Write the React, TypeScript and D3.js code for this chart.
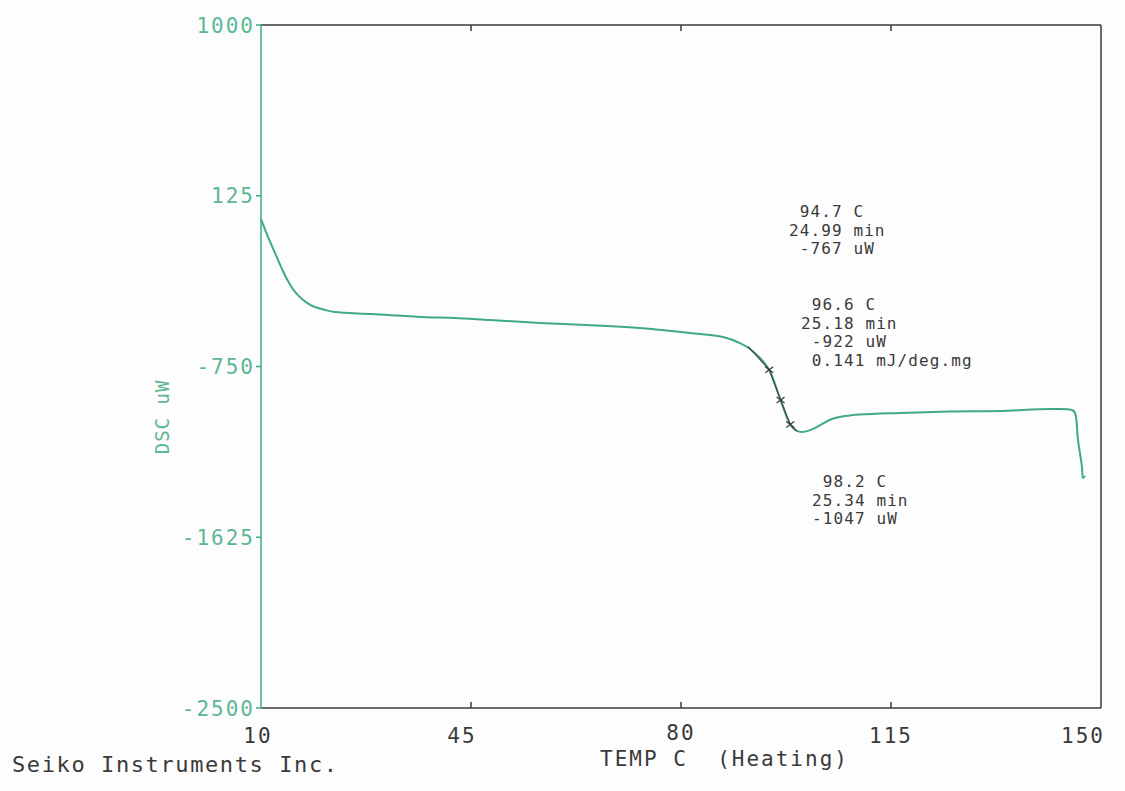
import React from "react";
import * as d3 from "d3";

const xTicks = [10, 45, 80, 115, 150];
const yTicks = [1000, 125, -750, -1625, -2500];

const temps = [10.0, 11.17, 12.33, 13.5, 14.5, 15.67, 16.83, 18.0, 19.0, 20.67, 22.33, 28.5, 36.83, 42.33, 48.17, 56.5, 67.67, 73.17, 81.5, 87.0, 89.83, 91.5, 93.17, 94.7, 96.6, 98.2, 99.2, 100.17, 101.83, 103.5, 105.17, 107.33, 109.83, 116.5, 124.83, 133.17, 141.5, 145.17, 145.67, 146.17, 146.83, 147.0, 147.33];
const dsc = [5, -86, -168, -250, -312, -368, -404, -430, -445, -460, -471, -481, -496, -501, -512, -527, -542, -553, -578, -599, -630, -660, -706, -767, -922, -1047, -1078, -1086, -1072, -1045, -1019, -1004, -996, -988, -981, -978, -968, -973, -988, -1127, -1265, -1321, -1311];

const markerTemps = [94.7, 96.6, 98.2];
const markerValues = [-767, -922, -1047];

const tangentTemps = [91.2, 94.7, 96.6, 98.2, 99.3];
const tangentValues = [-648, -767, -922, -1047, -1082];

const note1 = [" 94.7 C", "24.99 min", " -767 uW"];
const note2 = [" 96.6 C", "25.18 min", " -922 uW", " 0.141 mJ/deg.mg"];
const note3 = [" 98.2 C", "25.34 min", "-1047 uW"];

const GREEN = "#3faa84";
const LGREEN = "#5cb792";
const DARK = "#3a3a3a";
const FONT = "'DejaVu Sans Mono', monospace";

export default function App() {
  const x = d3.scaleLinear().domain([10, 150]).range([261, 1101]);
  const y = d3.scaleLinear().domain([-2500, 1000]).range([708, 25]);
  const pts: [number, number][] = temps.map((t, i) => [t, dsc[i]]);
  const line = d3
    .line<[number, number]>()
    .x((d) => x(d[0]))
    .y((d) => y(d[1]))
    .curve(d3.curveCatmullRom.alpha(0.5));
  const tan: [number, number][] = tangentTemps.map((t, i) => [t, tangentValues[i]]);
  const tanLine = d3
    .line<[number, number]>()
    .x((d) => x(d[0]))
    .y((d) => y(d[1]));

  const [x0, x1] = x.range();
  const [yb, yt] = y.range();

  const noteBlock = (lines: string[], lx: number, by: number, key: string) => (
    <g key={key}>
      {lines.map((s, i) => (
        <text
          key={i}
          x={lx}
          y={by + i * 18.5}
          fontFamily={FONT}
          fontSize={16}
          letterSpacing={1.1}
          fill={DARK}
          style={{ whiteSpace: "pre" }}
        >
          {s}
        </text>
      ))}
    </g>
  );

  return (
    <div style={{ position: "absolute", left: 0, top: 0 }}>
      <svg width={1125} height={791} style={{ display: "block", background: "#fdfdfd" }}>
        {/* frame */}
        <line x1={x0} y1={yt} x2={x1} y2={yt} stroke={DARK} strokeWidth={1.5} />
        <line x1={x1} y1={yt} x2={x1} y2={yb} stroke={DARK} strokeWidth={1.5} />
        <line x1={x0} y1={yb} x2={x1} y2={yb} stroke={DARK} strokeWidth={1.5} />
        <line x1={x0} y1={yt} x2={x0} y2={yb} stroke={GREEN} strokeWidth={1.5} />
        {/* x ticks */}
        {xTicks.slice(1, -1).map((t) => (
          <g key={"xt" + t}>
            <line x1={x(t)} x2={x(t)} y1={yt} y2={yt + 6} stroke={DARK} strokeWidth={1.5} />
            <line x1={x(t)} x2={x(t)} y1={yb} y2={yb - 6} stroke={DARK} strokeWidth={1.5} />
          </g>
        ))}
        {xTicks.map((t, i) => (
          <text
            key={"xl" + t}
            x={i === xTicks.length - 1 ? x(t) + 4 : x(t) - (i === 1 ? 9 : i === 0 ? 3 : 0)}
            y={i === 2 ? 740 : 743}
            textAnchor={i === xTicks.length - 1 ? "end" : "middle"}
            fontFamily={FONT}
            fontSize={21}
            letterSpacing={2}
            fill={DARK}
          >
            {t}
          </text>
        ))}
        {/* y ticks */}
        {yTicks.map((v) => (
          <g key={"yt" + v}>
            <line x1={x0 - 5} x2={x0} y1={y(v)} y2={y(v)} stroke={GREEN} strokeWidth={1.5} />
            <text
              x={255}
              y={y(v)}
              dy="0.36em"
              textAnchor="end"
              fontFamily={FONT}
              fontSize={21}
              letterSpacing={2}
              fill={LGREEN}
            >
              {v}
            </text>
          </g>
        ))}
        {/* axis titles */}
        <text
          transform={`translate(169,${417}) rotate(-90)`}
          textAnchor="middle"
          fontFamily={FONT}
          fontSize={19}
          letterSpacing={1}
          fill={LGREEN}
        >
          DSC uW
        </text>
        <text
          x={600}
          y={766}
          fontFamily={FONT}
          fontSize={21}
          letterSpacing={2}
          fill={DARK}
          style={{ whiteSpace: "pre" }}
        >
          {"TEMP C  (Heating)"}
        </text>
        <text x={12} y={772} fontFamily={FONT} fontSize={22} letterSpacing={1.6} fill={DARK}>
          Seiko Instruments Inc.
        </text>
        {/* curve */}
        <path d={line(pts) || ""} fill="none" stroke={GREEN} strokeWidth={2} strokeLinejoin="round" />
        <path d={tanLine(tan) || ""} fill="none" stroke={DARK} strokeWidth={1.3} opacity={0.85} />
        {markerTemps.map((t, i) => {
          const cx = x(t);
          const cy = y(markerValues[i]);
          return (
            <g key={"m" + i} stroke={DARK} strokeWidth={1.2}>
              <line x1={cx - 4} y1={cy - 3} x2={cx + 4} y2={cy + 3} />
              <line x1={cx - 4} y1={cy + 3} x2={cx + 4} y2={cy - 3} />
            </g>
          );
        })}
        {/* annotations */}
        {noteBlock(note1, 789, 217, "n1")}
        {noteBlock(note2, 801, 310, "n2")}
        {noteBlock(note3, 812, 487, "n3")}
      </svg>
    </div>
  );
}
